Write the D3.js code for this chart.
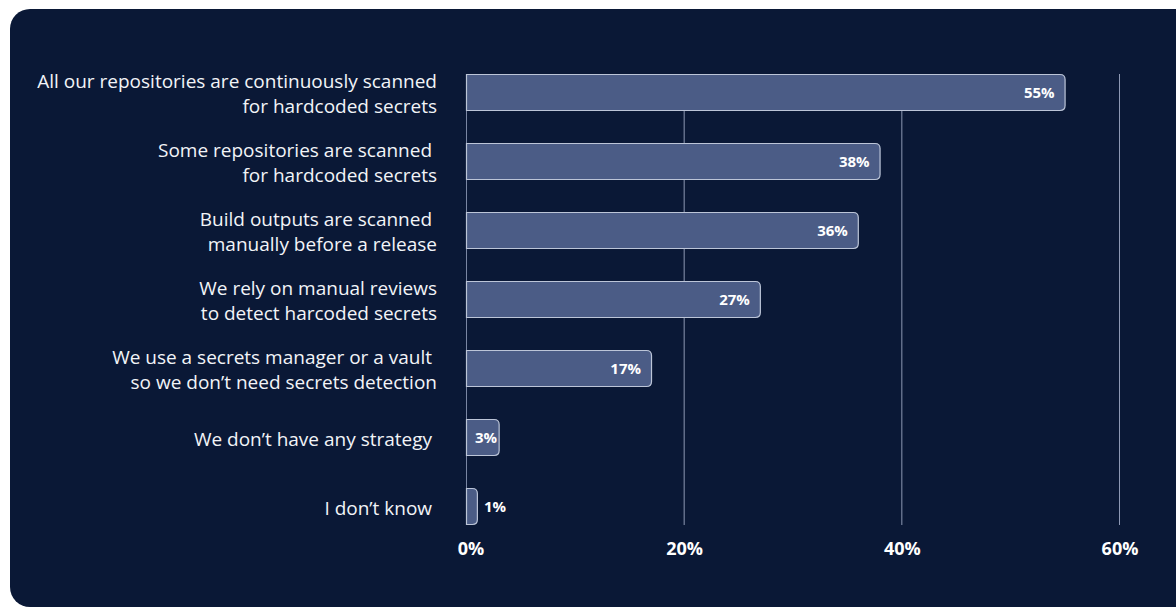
<!DOCTYPE html>
<html>
<head>
<meta charset="utf-8">
<script src="https://cdn.jsdelivr.net/npm/d3@7"></script>
<style>
  html, body { margin: 0; padding: 0; background: #ffffff; }
  svg { display: block; }
</style>
</head>
<body>
<svg id="chart" width="1176" height="608"></svg>
<script>
// Survey answers about hardcoded-secret scanning, each label split into display lines
const categories = [
  ["All our repositories are continuously scanned", "for hardcoded secrets"],
  ["Some repositories are scanned ", "for hardcoded secrets"],
  ["Build outputs are scanned ", "manually before a release"],
  ["We rely on manual reviews", "to detect harcoded secrets"],
  ["We use a secrets manager or a vault ", "so we don’t need secrets detection"],
  ["We don’t have any strategy "],
  ["I don’t know "]
];
const values = [55, 38, 36, 27, 17, 3, 1];
const tickValues = [0, 20, 40, 60];
const tickLabels = ["0%", "20%", "40%", "60%"];

const svg = d3.select("#chart");
const W = 1176, H = 608;
const FONT = "'Open Sans', sans-serif";

// Dark rounded panel
svg.append("rect")
  .attr("x", 10).attr("y", 9)
  .attr("width", W - 10 + 20).attr("height", H - 9 - 1)
  .attr("rx", 20).attr("ry", 20)
  .attr("fill", "#0a1836");

const x = d3.scaleLinear().domain([0, 60]).range([466, 1119]);
const keys = categories.map((_, i) => i);
const y = d3.scaleBand().domain(keys).range([74, 525]).paddingInner(0.464).paddingOuter(0);

const plotTop = 74, plotBottom = 525;

// Vertical gridlines
svg.append("g").selectAll("line")
  .data(tickValues)
  .join("line")
  .attr("x1", d => x(d) + 0.5).attr("x2", d => x(d) + 0.5)
  .attr("y1", plotTop).attr("y2", plotBottom)
  .attr("stroke", d => d === 0 ? "#7a86a3" : "#8d98b4")
  .attr("stroke-width", 1);

// Bars with rounded right end
const r = 5;
function barPath(x0, y0, w, h) {
  const rr = Math.min(r, w / 2, h / 2);
  return `M${x0},${y0} H${x0 + w - rr} Q${x0 + w},${y0} ${x0 + w},${y0 + rr} ` +
         `V${y0 + h - rr} Q${x0 + w},${y0 + h} ${x0 + w - rr},${y0 + h} H${x0} Z`;
}

svg.append("g").selectAll("path")
  .data(values)
  .join("path")
  .attr("d", (d, i) => barPath(x(0) + 0.5, y(i) + 0.5, x(d) - x(0), y.bandwidth() - 1))
  .attr("fill", "#4b5c86")
  .attr("stroke", "#bcc5d8")
  .attr("stroke-width", 1.2);

// Value labels: inside the bar at its end, starting near the axis for short bars,
// and outside when the bar is too thin to hold the text
svg.append("g").selectAll("text")
  .data(values)
  .join("text")
  .attr("x", d => {
    const w = x(d) - x(0);
    if (w < 20) return x(d) + 7;
    if (w < 50) return x(0) + 9;
    return x(d) - 10;
  })
  .attr("y", (d, i) => y(i) + y.bandwidth() / 2)
  .attr("dy", "0.36em")
  .attr("text-anchor", d => (x(d) - x(0)) < 50 ? "start" : "end")
  .attr("fill", "#ffffff")
  .attr("font-family", FONT)
  .attr("font-weight", 700)
  .attr("font-size", 15)
  .text(d => d + "%");

// Category labels, right aligned
const lineH = 25;
const labels = svg.append("g").selectAll("text")
  .data(categories)
  .join("text")
  .attr("text-anchor", "end")
  .attr("fill", "#f2f4f8")
  .attr("font-family", FONT)
  .attr("font-size", 19)
  .attr("xml:space", "preserve");

labels.each(function(lines, i) {
  const cy = y(i) + y.bandwidth() / 2 + 1.5;
  const start = cy - (lines.length - 1) * lineH / 2;
  d3.select(this).selectAll("tspan")
    .data(lines)
    .join("tspan")
    .attr("x", 437)
    .attr("y", (d, j) => start + j * lineH)
    .attr("dy", "0.35em")
    .text(d => d);
});

// Axis tick labels (the first one nudged right, clear of the chart edge)
svg.append("g").selectAll("text")
  .data(tickValues)
  .join("text")
  .attr("x", d => x(d) + (d === 0 ? 5 : 1))
  .attr("y", 555)
  .attr("text-anchor", "middle")
  .attr("fill", "#ffffff")
  .attr("font-family", FONT)
  .attr("font-weight", 700)
  .attr("font-size", 18)
  .text((d, i) => tickLabels[i]);
</script>
</body>
</html>
